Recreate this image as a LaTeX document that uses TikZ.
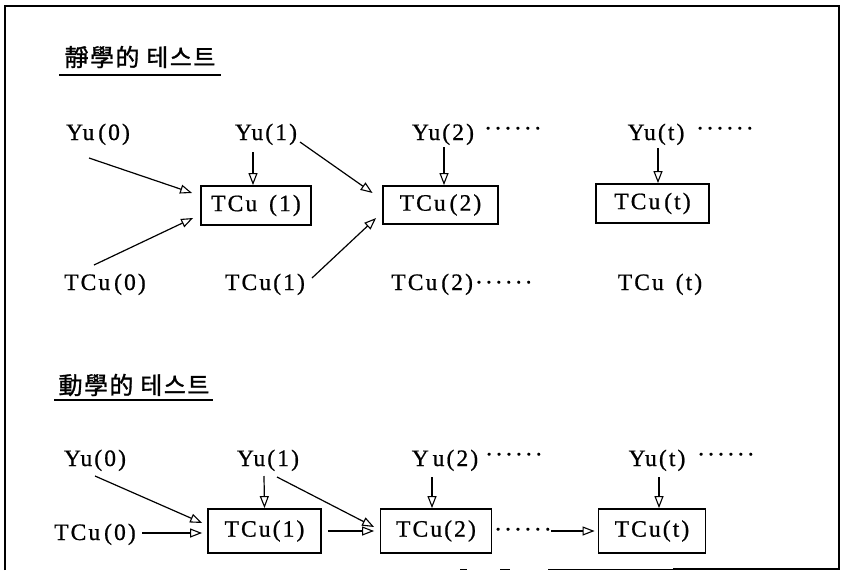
\documentclass[tikz,border=0pt]{standalone}
\usepackage{fontspec}
\setmainfont{Liberation Serif}[LetterSpace=9,FakeBold=0.8]
\newfontfamily\krfont{Noto Sans CJK KR}[LetterSpace=6,FakeBold=1.2]
\usetikzlibrary{arrows.meta}
\begin{document}
\begin{tikzpicture}[x=1pt,y=-1pt,
  lbl/.style={inner sep=0pt,anchor=base,font=\fontsize{23.5}{25}\selectfont},
  dotsep/.style={inner sep=0pt,anchor=base west,font=\fontsize{23.5}{25}\selectfont},
  heading/.style={inner sep=0pt,font=\krfont\fontsize{24}{27}\selectfont},
  unitbox/.style={draw,line width=1.8pt,inner sep=0pt,font=\fontsize{23.5}{25}\selectfont},
  feed/.style={line width=1.2pt,-{Triangle[open,length=12pt,width=9pt,line width=1.1pt]}},
  rule/.style={line width=2.2pt},
  frameline/.style={line width=2.5pt}]
\useasboundingbox (0,0) rectangle (844,573);

% outer frame (bottom edge only partly printed)
\draw[frameline] (5,570) -- (5,6) -- (839,6) -- (839,570);
\draw[line width=1pt] (548,569) -- (673,569);
\draw[line width=2pt] (673,569) -- (839,569);
\draw[line width=1pt] (460,569) -- (467,569) (500,569) -- (510,569);

% ---------------- static test ----------------
\node[heading] (title1) at (140,57) {靜學的 테스트};
\draw[rule] (59,75) -- (221,75);

\node[lbl] (ya0) at (98,140) {Yu\,(0)};
\node[lbl] (ya1) at (266,140) {Yu(1)};
\node[lbl] (ya2) at (443,140) {Yu(2)};
\node[dotsep] (ya2d) at (484,136) {······};
\node[lbl] (yat) at (656,140) {Yu(t)};
\node[dotsep] (yatd) at (696,136) {······};

\node[unitbox,minimum width=110pt,minimum height=39pt] (b1) at (256,205.5) {TCu\, (1)};
\node[unitbox,minimum width=115pt,minimum height=38pt] (b2) at (440.5,205) {TCu\,(2)};
\node[unitbox,minimum width=113pt,minimum height=39pt] (bt) at (652.5,203.5) {TCu\,(t)};

\node[lbl] (tc0) at (105,290) {TCu\,(0)};
\node[lbl] (tc1) at (265,290) {TCu(1)};
\node[lbl] (tc2) at (462,290) {TCu\,(2)······};
\node[lbl] (tct) at (660,290) {TCu\, (t)};

\draw[feed] ([shift={(-9,18)}]ya0.base) -- ([shift={(-8,-12.5)}]b1.west);
\draw[feed] ([shift={(-13,12)}]ya1.base) -- ([xshift=-3pt]b1.north);
\draw[feed] ([shift={(34,2)}]ya1.base) -- ([shift={(-9.5,-12)}]b2.west);
\draw[feed] ([shift={(1,7)}]ya2.base) -- ([xshift=3.5pt]b2.north);
\draw[feed] ([shift={(2,8)}]yat.base) -- ([xshift=5.5pt]bt.north);
\draw[feed] ([shift={(-11,-25)}]tc0.base) -- ([shift={(-7,12.5)}]b1.west);
\draw[feed] ([shift={(47,-12)}]tc1.base) -- ([shift={(-6,13)}]b2.west);

% ---------------- dynamic test ----------------
\node[heading] (title2) at (134,385) {動學的 테스트};
\draw[rule] (54,400) -- (213,400);

\node[lbl] (yb0) at (95,466) {Yu(0)};
\node[lbl] (yb1) at (268,466) {Yu(1)};
\node[lbl] (yb2) at (445,466) {Y\,u(2)};
\node[dotsep] (yb2d) at (485,462) {······};
\node[lbl] (ybt) at (657,466) {Yu(t)};
\node[dotsep] (ybtd) at (697,462) {······};

\node[lbl] (tb0) at (95,540) {TCu\,(0)};
\node[unitbox,minimum width=113pt,minimum height=44pt] (c1) at (264.5,531) {TCu(1)};
\node[unitbox,minimum width=111pt,minimum height=44pt] (c2) at (436,531) {TCu(2)};
\node[dotsep] (c2d) at (494,537) {······};
\node[unitbox,minimum width=107pt,minimum height=44pt] (ct) at (652,531) {TCu(t)};
\coordinate (gap) at (551,531);

\draw[feed] ([shift={(0,10)}]yb0.base) -- ([shift={(-5,-8)}]c1.west);
\draw[feed] ([shift={(47,-7)}]tb0.base) -- ([shift={(-5,2)}]c1.west);
\draw[feed] ([shift={(-4,10)}]yb1.base) -- (c1.north);
\draw[feed] ([shift={(9,11)}]yb1.base) -- ([shift={(-5.5,-4)}]c2.west);
\draw[feed] ([xshift=6pt]c1.east) -- ([xshift=-5.5pt]c2.west);
\draw[feed] ([shift={(-13,11)}]yb2.base) -- ([xshift=-4pt]c2.north);
\draw[feed] (gap) -- ([xshift=-3pt]ct.west);
\draw[feed] ([shift={(2,11)}]ybt.base) -- ([xshift=7pt]ct.north);
\end{tikzpicture}
\end{document}
